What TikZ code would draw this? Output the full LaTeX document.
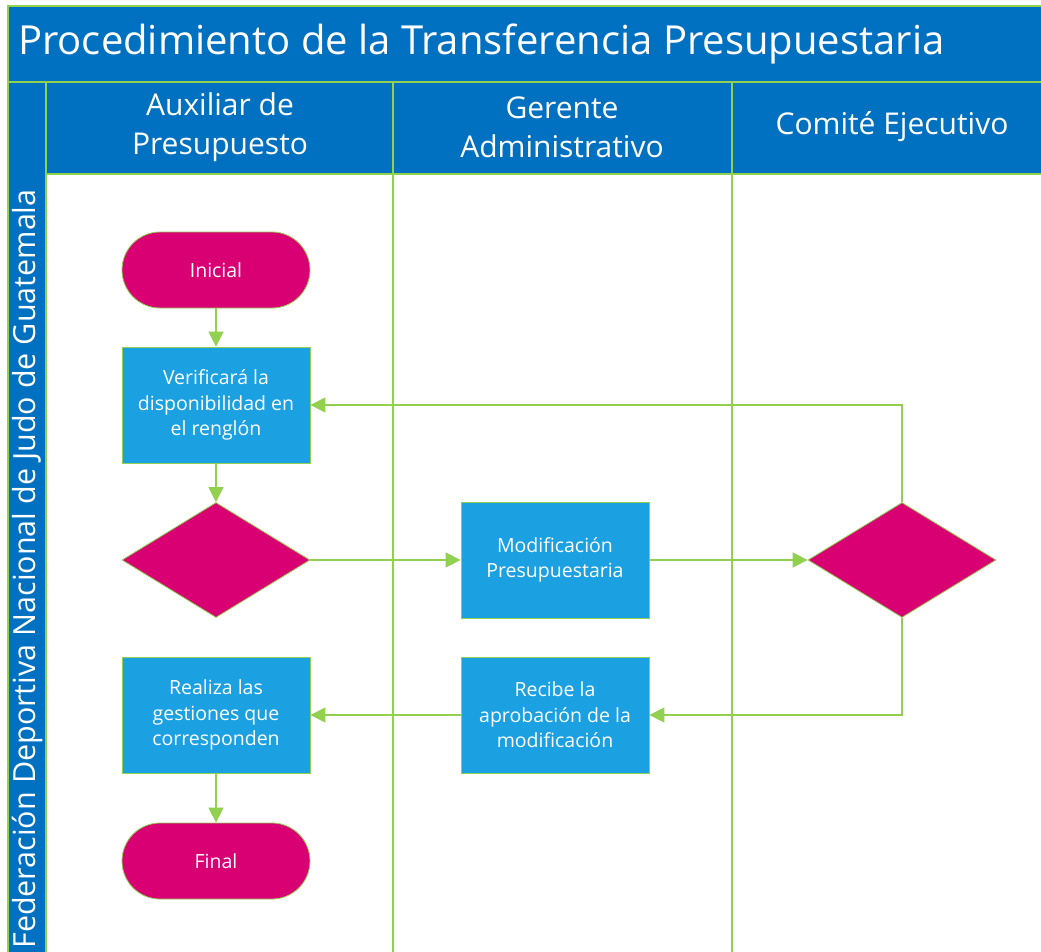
\documentclass[tikz,border=0pt]{standalone}
\usepackage{fontspec}
\setmainfont{Open Sans}
\usetikzlibrary{shapes.geometric,arrows.meta}
\definecolor{titleblue}{HTML}{0070C0}
\definecolor{boxblue}{HTML}{1BA1E2}
\definecolor{mag}{HTML}{D80073}
\definecolor{lgreen}{HTML}{92D050}
\begin{document}
\begin{tikzpicture}[x=1pt,y=-1pt,
  lane/.style={draw=lgreen, line width=1.5pt},
  procbox/.style={rectangle, fill=boxblue, draw=lgreen, line width=0.8pt, minimum width=188pt, minimum height=116pt, inner sep=0pt, text=white, align=center, font=\fontsize{19.5}{25.5}\selectfont},
  termbox/.style={rectangle, rounded corners=38pt, fill=mag, draw=lgreen, line width=0.8pt, minimum width=188pt, minimum height=76pt, inner sep=0pt, text=white, font=\fontsize{19.5}{25.5}\selectfont},
  decision/.style={diamond, fill=mag, draw=lgreen, line width=0.8pt, minimum width=188pt, minimum height=115pt, inner sep=0pt},
  flow/.style={draw=lgreen, line width=1.5pt, -{Triangle[length=15pt,width=15pt]}},
  head/.style={text=white, align=center, font=\fontsize{30}{39}\selectfont}]
\useasboundingbox (0,0) rectangle (1041,952);
% background bands
\fill[white] (0,0) rectangle (1041,952);
\fill[titleblue] (8,6) rectangle (1041,82);
\fill[titleblue] (8,82) rectangle (46,952);
\fill[titleblue] (46,82) rectangle (1041,174);
% lane lines
\draw[lane] (1041,6) -- (8,6) -- (8,952);
\draw[lane] (8,82) -- (1041,82);
\draw[lane] (46,82) -- (46,952);
\draw[lane] (46,174) -- (1041,174);
\draw[lane] (393,82) -- (393,952);
\draw[lane] (732,82) -- (732,952);
% texts
\node[anchor=west, text=white, font=\fontsize{40}{48}\selectfont, inner sep=0pt] (title) at (18,44) {Procedimiento de la Transferencia Presupuestaria};
\node[head] (h1) at (220,127) {Auxiliar de\\Presupuesto};
\node[head] (h2) at (562,127) {Gerente\\Administrativo};
\node[head] (h3) at (892,127) {Comité Ejecutivo};
\node[rotate=90, text=white, font=\fontsize{30.5}{36}\selectfont, inner sep=0pt] (org) at (27,569) {Federación Deportiva Nacional de Judo de Guatemala};
% shapes
\node[termbox] (ini) at (216,270) {Inicial};
\node[procbox] (ver) at (216,405) {Verificará la\\disponibilidad en\\el renglón};
\node[decision] (d1) at (216,560) {};
\node[procbox] (mod) at (555,560) {Modificación\\Presupuestaria};
\node[decision] (d2) at (902,560) {};
\node[procbox] (rec) at (555,715) {Recibe la\\aprobación de la\\modificación};
\node[procbox] (rea) at (216,715) {Realiza las\\gestiones que\\corresponden};
\node[termbox] (fin) at (216,861) {Final};
% connectors
\draw[flow] (ini) -- (ver);
\draw[flow] (ver) -- (d1);
\draw[flow] (d1) -- (mod);
\draw[flow] (mod) -- (d2);
\draw[flow] (d2.north) |- (ver.east);
\draw[flow] (d2.south) |- (rec.east);
\draw[flow] (rec) -- (rea);
\draw[flow] (rea) -- (fin);
\end{tikzpicture}
\end{document}
